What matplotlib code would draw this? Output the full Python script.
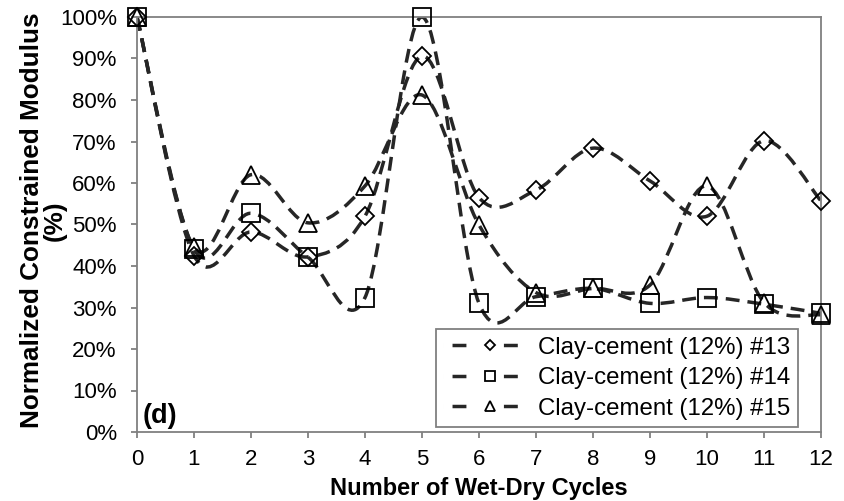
import numpy as np
import matplotlib.pyplot as plt
from matplotlib.path import Path
from matplotlib.patches import PathPatch
from matplotlib.lines import Line2D

plt.rcParams['font.family'] = ['Liberation Sans', 'DejaVu Sans']

# Data (normalized constrained modulus, %)
cycles = [0, 1, 2, 3, 4, 5, 6, 7, 8, 9, 10, 11, 12]
s13 = [100, 42.5, 48.2, 42.2, 52.0, 90.6, 56.5, 58.3, 68.4, 60.5, 52.0, 70.2, 55.7]
s14 = [100, 44.0, 52.7, 42.1, 32.4, 100, 31.0, 32.6, 34.6, 31.0, 32.4, 30.8, 28.6]
s15 = [100, 44.5, 62.0, 50.4, 59.3, 81.2, 49.9, 33.6, 34.6, 35.4, 59.3, 31.2, 28.2]
labels = ['Clay-cement (12%) #13', 'Clay-cement (12%) #14', 'Clay-cement (12%) #15']
markers = ['D', 's', '^']
msizes = [9.2, 13.5, 13.5]

line_col = '#262626'
axis_col = '#808080'
lw = 2.5


def smooth_path(x, y):
    # Excel-style smoothed line: cubic Bezier through points (Catmull-Rom tangents)
    x = np.asarray(x, float)
    y = np.asarray(y, float)
    px = np.concatenate([[x[0]], x, [x[-1]]])
    py = np.concatenate([[y[0]], y, [y[-1]]])
    verts = [(x[0], y[0])]
    codes = [Path.MOVETO]
    for i in range(len(x) - 1):
        j = i + 1
        c1 = (px[j] + (px[j + 1] - px[j - 1]) / 6, py[j] + (py[j + 1] - py[j - 1]) / 6)
        c2 = (px[j + 1] - (px[j + 2] - px[j]) / 6, py[j + 1] - (py[j + 2] - py[j]) / 6)
        verts += [c1, c2, (x[i + 1], y[i + 1])]
        codes += [Path.CURVE4] * 3
    return Path(verts, codes)


fig = plt.figure(figsize=(8.45, 5.01), dpi=100)
ax = fig.add_axes([137 / 845, 1 - 432 / 501, 684 / 845, 415 / 501])

handles = []
for ys, lab, m, ms in zip([s13, s14, s15], labels, markers, msizes):
    patch = PathPatch(smooth_path(cycles, ys), facecolor='none', edgecolor=line_col,
                      lw=lw, linestyle=(0, (4, 2.3)), zorder=2)
    ax.add_patch(patch)
    ax.plot(cycles, ys, linestyle='none', marker=m, markersize=ms, markerfacecolor='none',
            markeredgecolor='black', markeredgewidth=1.3, clip_on=False, zorder=3)
    handles.append(Line2D([], [], color=line_col, lw=lw,
                          linestyle=(0, (0.001, 2.6, 4.0, 10.8, 4.0, 50)),
                          marker=m, markersize=ms * 0.55, markerfacecolor='none',
                          markeredgecolor='black', markeredgewidth=1.3, label=lab))

ax.set_xlim(0, 12)
ax.set_ylim(0, 100)
ax.set_xticks(cycles)
ax.set_yticks(np.arange(0, 101, 10))
ax.set_yticklabels([f'{v}%' for v in range(0, 101, 10)])

for sp in ax.spines.values():
    sp.set_color(axis_col)
    sp.set_linewidth(1.3)
ax.tick_params(axis='both', colors=axis_col, labelcolor='black', labelsize=16,
               width=1.3, length=4.5)
ax.tick_params(axis='y', pad=10)
ax.tick_params(axis='x', pad=8)

ax.set_xlabel('Number of Wet-Dry Cycles', fontsize=17, fontweight='bold')
ax.xaxis.set_label_coords(0.5, -0.108)
ax.set_ylabel('Normalized Constrained Modulus\n(%)', fontsize=18.8, fontweight='bold',
              linespacing=0.9)
ax.yaxis.set_label_coords(-0.103, 0.51)

ax.text(0.008, 0.008, '(d)', transform=ax.transAxes, fontsize=19.5, fontweight='bold',
        ha='left', va='bottom')

leg = ax.legend(handles=handles, loc='lower right', bbox_to_anchor=(0.966, 0.012),
                borderaxespad=0, fontsize=17.3, handlelength=3.85, handletextpad=0.1,
                borderpad=0.3, labelspacing=0.36, fancybox=False, framealpha=1)
leg.get_frame().set_edgecolor(axis_col)
leg.get_frame().set_linewidth(1.3)

fig.savefig('out.png', dpi=100)
